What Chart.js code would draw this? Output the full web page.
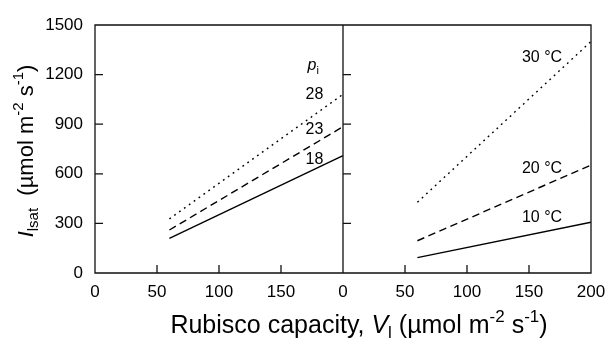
<!DOCTYPE html>
<html>
<head>
<meta charset="utf-8">
<script src="https://cdn.jsdelivr.net/npm/chart.js@4/dist/chart.umd.min.js"></script>
<style>
  html, body { margin: 0; padding: 0; background: #fff; }
  #wrap { width: 607px; height: 339px; }
</style>
</head>
<body>
<div id="wrap"><canvas id="isatChart"></canvas></div>
<script>
// left panel: effect of intercellular CO2 (pi)
const vcmaxLeft = [60, 200];
const pi18 = [210, 710];
const pi23 = [260, 885];
const pi28 = [327, 1081];

// right panel: effect of temperature
const vcmaxRight = [60, 200];
const temp10 = [93, 307];
const temp20 = [195, 653];
const temp30 = [428, 1400];

const panelWidth = 200;   // each panel spans 0-200, right one is shifted
const yTicks = [0, 300, 600, 900, 1200, 1500];

const ctx = document.getElementById('isatChart');

function pts(xs, ys, shift) {
  return xs.map((x, i) => ({ x: x + shift, y: ys[i] }));
}

function line(label, xs, ys, shift, dash) {
  return {
    label: label,
    data: pts(xs, ys, shift),
    borderColor: '#000',
    borderWidth: 1.4,
    borderDash: dash,
    pointRadius: 0,
    fill: false
  };
}

const DOT = [1.8, 4.2];
const DASH = [7.5, 4.5];

// labels placed in data coordinates
const notes = [
  { x: 176, y: 1252, parts: [{ t: 'p', it: true }, { t: 'i', sub: true }] },
  { x: 177, y: 1077, parts: [{ t: '28' }] },
  { x: 177, y: 865, parts: [{ t: '23' }] },
  { x: 177, y: 684, parts: [{ t: '18' }] },
  { x: 360.5, y: 1301, parts: [{ t: '30 °C' }] },
  { x: 360.5, y: 629, parts: [{ t: '20 °C' }] },
  { x: 360.5, y: 333, parts: [{ t: '10 °C' }] }
];

const FAMILY = '"Liberation Sans", Arial, sans-serif';

function segFont(p, size) {
  const s = (p.sub || p.sup) ? Math.round(size * 0.68) : size;
  return (p.it ? 'italic ' : '') + s + 'px ' + FAMILY;
}

// draws mixed text centred on (cx, cy) on the current transform
function drawRich(c, parts, cx, cy, size) {
  c.textBaseline = 'middle';
  c.textAlign = 'left';
  let total = 0;
  parts.forEach(p => { c.font = segFont(p, size); total += c.measureText(p.t).width; });
  let x = cx - total / 2;
  parts.forEach(p => {
    c.font = segFont(p, size);
    let dy = 0;
    if (p.sub) dy = size * 0.3;
    if (p.sup) dy = -size * 0.35;
    c.fillText(p.t, x, cy + dy);
    x += c.measureText(p.t).width;
  });
}

const framePlugin = {
  id: 'frame',
  afterDraw(chart) {
    const c = chart.ctx;
    const a = chart.chartArea;
    const xs = chart.scales.x;
    const ys = chart.scales.y;
    const mid = xs.getPixelForValue(panelWidth);
    c.save();
    c.strokeStyle = '#111';
    c.lineWidth = 1.3;
    c.beginPath();
    c.rect(a.left, a.top, a.right - a.left, a.bottom - a.top);
    c.moveTo(mid, a.top);
    c.lineTo(mid, a.bottom);
    // inward ticks
    const tl = 8;
    yTicks.forEach(v => {
      if (v === 0 || v === 1500) return;
      const py = ys.getPixelForValue(v);
      c.moveTo(a.left, py); c.lineTo(a.left + tl, py);
      c.moveTo(mid, py); c.lineTo(mid + tl, py);
    });
    [50, 100, 150, 250, 300, 350].forEach(v => {
      const px = xs.getPixelForValue(v);
      c.moveTo(px, a.bottom); c.lineTo(px, a.bottom - tl);
    });
    c.stroke();

    c.fillStyle = '#000';
    notes.forEach(n => {
      drawRich(c, n.parts, xs.getPixelForValue(n.x), ys.getPixelForValue(n.y), 16);
    });

    // x axis title
    drawRich(c, [
      { t: 'Rubisco capacity, ' }, { t: 'V', it: true }, { t: 'l', sub: true },
      { t: ' (µmol m' }, { t: '-2', sup: true }, { t: ' s' }, { t: '-1', sup: true }, { t: ')' }
    ], 359, a.bottom + 53, 25);

    // y axis title
    c.translate(27, 151);
    c.rotate(-Math.PI / 2);
    drawRich(c, [
      { t: 'I', it: true }, { t: 'lsat', sub: true }, { t: '  (µmol m' },
      { t: '-2', sup: true }, { t: ' s' }, { t: '-1', sup: true }, { t: ')' }
    ], 0, 0, 22);
    c.restore();
  }
};

new Chart(ctx, {
  type: 'line',
  data: {
    datasets: [
      line('18', vcmaxLeft, pi18, 0, []),
      line('23', vcmaxLeft, pi23, 0, DASH),
      line('28', vcmaxLeft, pi28, 0, DOT),
      line('10 °C', vcmaxRight, temp10, panelWidth, []),
      line('20 °C', vcmaxRight, temp20, panelWidth, DASH),
      line('30 °C', vcmaxRight, temp30, panelWidth, DOT)
    ]
  },
  options: {
    responsive: true,
    maintainAspectRatio: false,
    animation: false,
    events: [],
    layout: { padding: { left: 0, right: 16, top: 25, bottom: 0 } },
    plugins: { legend: { display: false }, tooltip: { enabled: false } },
    scales: {
      x: {
        type: 'linear',
        min: 0,
        max: 2 * panelWidth,
        grid: { display: false, drawTicks: false },
        border: { display: false },
        afterFit: s => { s.height = 66; s.paddingLeft = 0; s.paddingRight = 0; },
        ticks: {
          stepSize: 50,
          padding: 9,
          color: '#000',
          font: { family: FAMILY, size: 17 },
          maxRotation: 0,
          callback: v => String(v > panelWidth ? v - panelWidth : (v === panelWidth ? 0 : v))
        }
      },
      y: {
        min: 0,
        max: 1500,
        grid: { display: false, drawTicks: false },
        border: { display: false },
        afterFit: s => { s.width = 95; s.paddingTop = 0; s.paddingBottom = 0; },
        afterBuildTicks: s => { s.ticks = yTicks.map(v => ({ value: v })); },
        ticks: {
          padding: 12,
          color: '#000',
          font: { family: FAMILY, size: 17 },
          callback: v => String(v)
        }
      }
    }
  },
  plugins: [framePlugin]
});
</script>
</body>
</html>
